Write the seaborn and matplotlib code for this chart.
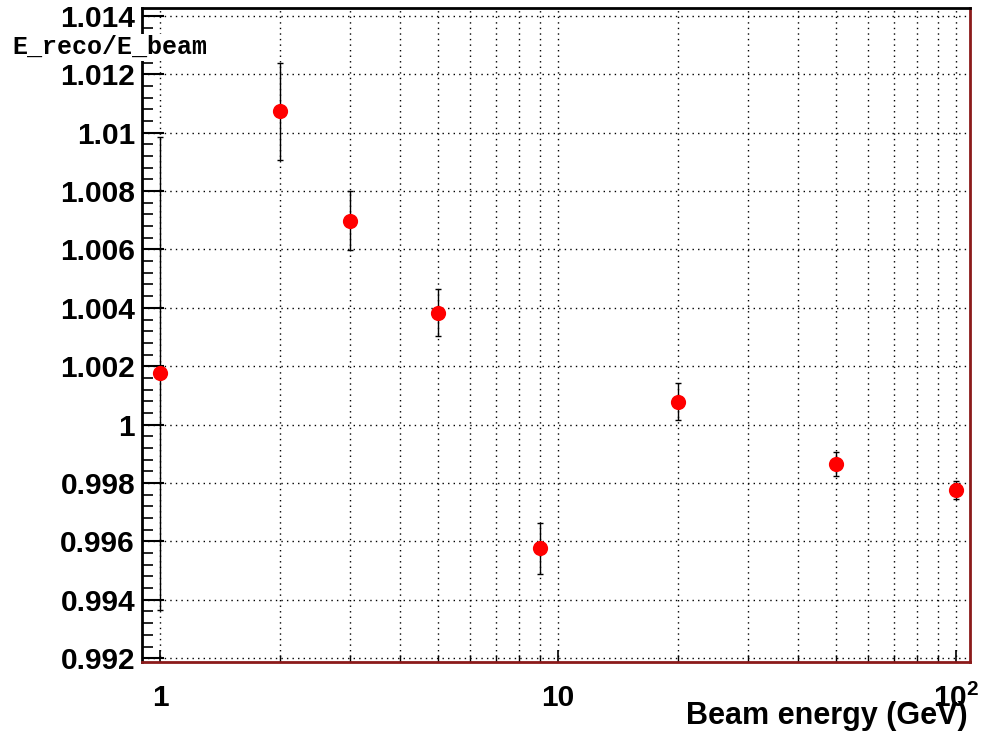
import matplotlib
matplotlib.use("Agg")
import matplotlib.pyplot as plt
import matplotlib.ticker as mticker
import numpy as np
import pandas as pd
import seaborn as sns

# values
beam_energy = [1, 2, 3, 5, 9, 20, 50, 100]
ratio = [1.00176, 1.01073, 1.00699, 1.00383, 0.99576, 1.00079, 0.99865, 0.99776]
ratio_err = [0.00810, 0.00167, 0.00100, 0.00080, 0.00088, 0.00064, 0.00041, 0.00031]

df = pd.DataFrame({"E": beam_energy, "r": ratio, "err": ratio_err})

sns.set_style("white")
plt.rcParams["font.family"] = ["Liberation Sans", "DejaVu Sans"]
plt.rcParams["mathtext.fontset"] = "custom"
plt.rcParams["mathtext.bf"] = "Liberation Sans:bold"
plt.rcParams["mathtext.rm"] = "Liberation Sans:bold"
for key in ["text.color", "xtick.color", "ytick.color", "axes.labelcolor"]:
    plt.rcParams[key] = "black"

fig = plt.figure(figsize=(9.82, 7.39), dpi=100)
ax = fig.add_axes([142 / 982, 1 - 662 / 739, (970 - 142) / 982, (662 - 8) / 739])

ax.errorbar(df["E"], df["r"], yerr=df["err"], fmt="none", ecolor="black",
            elinewidth=1.0, capsize=2.5, capthick=1.0, zorder=3)
sns.scatterplot(data=df, x="E", y="r", ax=ax, color="red", s=120,
                edgecolor="red", linewidth=0, zorder=4, legend=False)

ax.set_xscale("log")
ax.set_xlim(0.901, 108.4)
ax.set_ylim(0.99187, 1.01427)

# ticks
ax.yaxis.set_major_locator(mticker.MultipleLocator(0.002))
ax.yaxis.set_minor_locator(mticker.MultipleLocator(0.0004))
ax.yaxis.set_major_formatter(mticker.FuncFormatter(lambda v, p: "%g" % round(v, 6)))
ax.xaxis.set_major_locator(mticker.LogLocator(base=10, numticks=10))
ax.xaxis.set_minor_locator(mticker.LogLocator(base=10, subs=np.arange(2, 10), numticks=30))
ax.xaxis.set_minor_formatter(mticker.NullFormatter())

def xfmt(v, p):
    if abs(v - 100) < 1e-6:
        return r"$\mathbf{10^{2}}$"
    return "%g" % v

ax.xaxis.set_major_formatter(mticker.FuncFormatter(xfmt))

ax.tick_params(axis="y", which="major", direction="in", length=16, width=1.5,
               labelsize=21.5, pad=5, left=True, right=False)
ax.tick_params(axis="y", which="minor", direction="in", length=8, width=1.2,
               left=True, right=False)
ax.tick_params(axis="x", which="major", direction="in", length=9, width=1.2,
               labelsize=21.5, pad=16, bottom=True, top=False)
ax.tick_params(axis="x", which="minor", direction="in", length=5, width=1.0,
               bottom=True, top=False)
for lab in ax.get_xticklabels() + ax.get_yticklabels():
    lab.set_fontweight("bold")

# grid
ax.grid(True, axis="x", which="both", linestyle=(0, (1, 3)), color="black", linewidth=1.0)
ax.grid(True, axis="y", which="major", linestyle=(0, (1, 3)), color="black", linewidth=1.0)
ax.set_axisbelow(True)

# frame
for side in ["left", "top"]:
    ax.spines[side].set_color("black")
    ax.spines[side].set_linewidth(2)
for side in ["right", "bottom"]:
    ax.spines[side].set_color("#8b1a1a")
    ax.spines[side].set_linewidth(2)

ax.set_xlabel("")
ax.set_ylabel("")
fig.text(968 / 982, 1 - 716 / 739, "Beam energy (GeV)", ha="right", va="center",
         fontsize=22, fontweight="bold")
fig.text(12 / 982, 1 - 47 / 739, "E_reco/E_beam", ha="left", va="center",
         fontsize=18, fontweight="bold", family=["Liberation Mono", "DejaVu Sans Mono"],
         bbox=dict(facecolor="white", edgecolor="none", pad=1), zorder=5)

fig.savefig("out.png", dpi=100, facecolor="white")
